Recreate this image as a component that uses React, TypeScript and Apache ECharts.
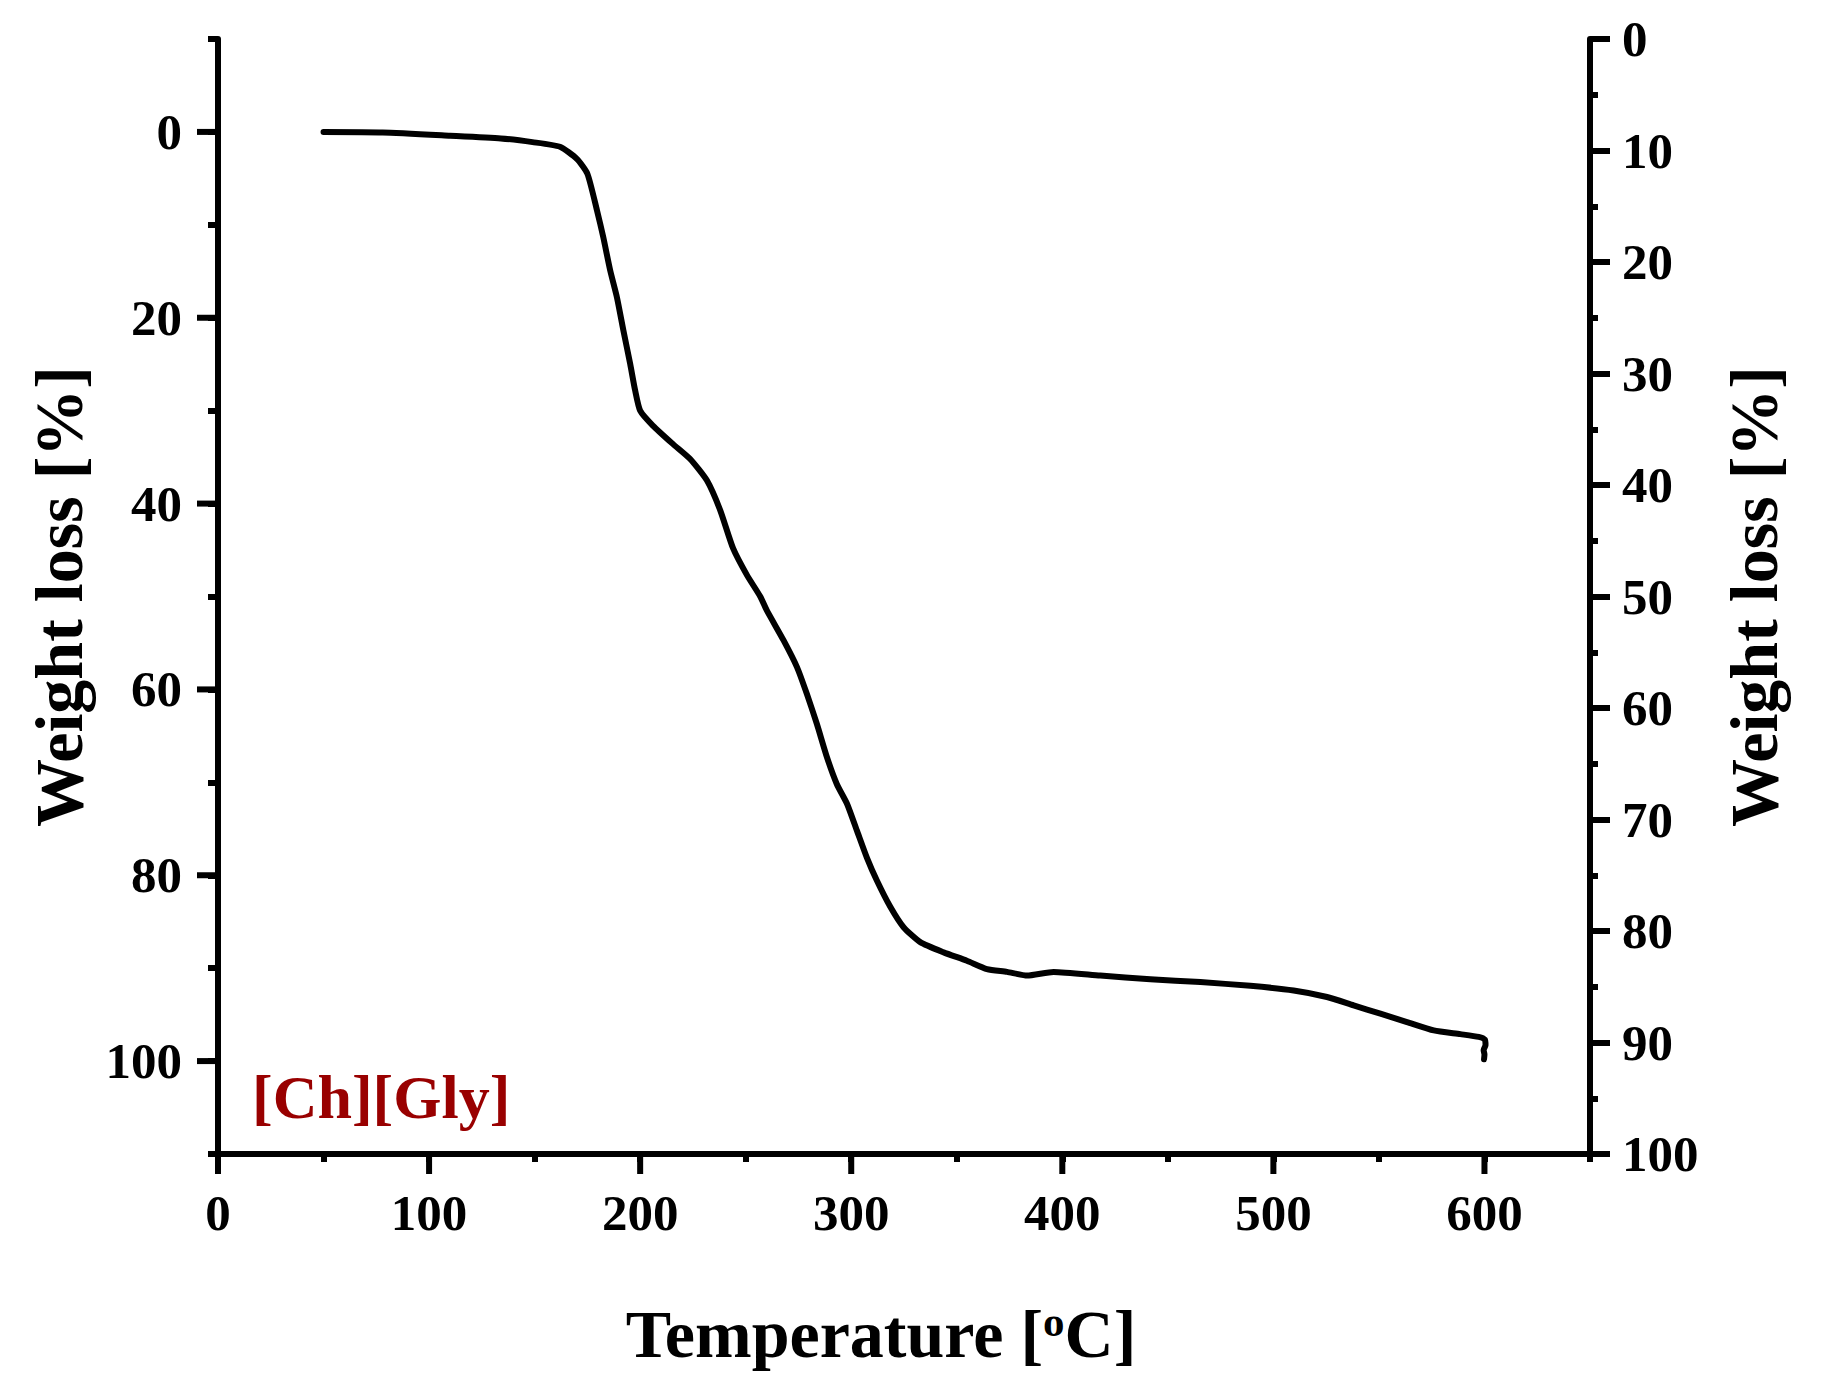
import React, { useEffect, useRef } from 'react';
import * as echarts from 'echarts';

// TGA curve of [Ch][Gly]
const temperature = [
    50, 78, 110, 134, 149, 162, 170, 175, 179.5, 182.5, 185.8, 189, 192, 195.3, 197.6, 200,
    206, 215.6, 223.7, 231.6, 237.9, 244, 250.6, 256.9, 260, 267.9, 274.3, 279, 283.7, 288.5,
    293.2, 298, 302.7, 307.4, 312.2, 318.5, 324.8, 332.7, 343.8, 354.8, 364.3, 373.8, 383.3,
    395.9, 418, 441.7, 465.4, 489.1, 509.6, 525.4, 538, 550.7, 563.3, 576, 588.6, 597.3,
    600.2, 600.5, 599.6, 600, 599.8,
];
const weightLoss = [
    0, 0.05, 0.4, 0.7, 1.1, 1.6, 2.9, 4.5, 8.4, 11.3, 14.9, 17.8, 21.3, 25, 27.8, 30,
    31.6, 33.6, 35.2, 37.5, 40.7, 44.8, 47.7, 50, 51.5, 54.7, 57.6, 60.5, 63.7, 67.3,
    70.2, 72.3, 75.2, 78.1, 80.6, 83.4, 85.6, 87.2, 88.3, 89.2, 90.1, 90.4, 90.8,
    90.4, 90.8, 91.2, 91.5, 91.9, 92.4, 93.1, 94, 94.9, 95.8, 96.7, 97.1, 97.4,
    97.7, 98.3, 98.8, 99.3, 99.8,
];
const xTicks = [0, 100, 200, 300, 400, 500, 600];
const leftTicks = [0, 20, 40, 60, 80, 100];
const sampleName = '[Ch][Gly]';

const FONT = 'Liberation Serif';

export default function App() {
    const chartRef = useRef<HTMLDivElement | null>(null);

    useEffect(() => {
        document.body.style.margin = '0';
        if (!chartRef.current) return;
        const chart = echarts.init(chartRef.current, undefined, { renderer: 'svg' });

        const tickLabel = {
            color: '#000',
            fontFamily: FONT,
            fontWeight: 'bold' as const,
            fontSize: 51,
        };
        const axisLine = { show: true, onZero: false, lineStyle: { color: '#000', width: 6 } };
        const noLine = { show: false, onZero: false };
        const tick = (len: number) => ({
            show: true,
            inside: false,
            length: len,
            lineStyle: { color: '#000', width: 6 },
        });
        const titleStyle = {
            color: '#000',
            fontFamily: FONT,
            fontWeight: 'bold' as const,
            fontSize: 68,
        };
        const tickOnly = (extra: object) => ({
            type: 'value',
            axisLine: noLine,
            axisLabel: { show: false },
            splitLine: { show: false },
            ...extra,
        });

        // long ticks drawn through the axes' own scales
        const longTicks = (values: number[], side: 'left' | 'bottom', len: number) => ({
            type: 'custom',
            xAxisIndex: 0,
            yAxisIndex: 0,
            clip: false,
            silent: true,
            z: 5,
            data: values.map((v) => (side === 'left' ? [0, v] : [v, 110])),
            renderItem: (_params: any, api: any) => {
                const x = api.value(0);
                const y = api.value(1);
                const p = api.coord([x, y]);
                const left = side === 'left';
                const px = left ? api.coord([0, y])[0] : p[0];
                const py = left ? p[1] : api.coord([x, 110])[1];
                return {
                    type: 'line',
                    shape: left
                        ? { x1: px - len, y1: py, x2: px, y2: py }
                        : { x1: px, y1: py, x2: px, y2: py + len },
                    style: { stroke: '#000', lineWidth: 6 },
                };
            },
        });

        const option = {
            animation: false,
            backgroundColor: '#fff',
            grid: { left: 218, right: 240, top: 39, bottom: 243 },
            xAxis: [
                {
                    type: 'value',
                    position: 'bottom',
                    min: 0,
                    max: 650,
                    interval: 50,
                    axisLine,
                    axisTick: tick(8),
                    axisLabel: {
                        ...tickLabel,
                        margin: 33,
                        formatter: (v: number) => (v <= 600 && v % 100 === 0 ? String(v) : ''),
                    },
                    splitLine: { show: false },
                    name: 'Temperature [{sup|o}C]',
                    nameLocation: 'middle',
                    nameGap: 146,
                    nameTextStyle: {
                        ...titleStyle,
                        padding: [0, 46, 0, 0],
                        rich: {
                            sup: {
                                ...titleStyle,
                                fontSize: 43,
                                verticalAlign: 'top',
                                lineHeight: 43,
                            },
                        },
                    },
                },
            ],
            yAxis: [
                {
                    type: 'value',
                    position: 'left',
                    inverse: true,
                    min: -10,
                    max: 110,
                    interval: 10,
                    axisLine,
                    axisTick: tick(10),
                    axisLabel: {
                        ...tickLabel,
                        margin: 36,
                        formatter: (v: number) => (v >= 0 && v <= 100 && v % 20 === 0 ? String(v) : ''),
                    },
                    splitLine: { show: false },
                    name: 'Weight loss [%]',
                    nameLocation: 'middle',
                    nameGap: 125,
                    nameTextStyle: titleStyle,
                },
                {
                    type: 'value',
                    position: 'right',
                    inverse: true,
                    min: 0,
                    max: 100,
                    interval: 10,
                    axisLine,
                    axisTick: tick(20),
                    axisLabel: { ...tickLabel, margin: 32 },
                    splitLine: { show: false },
                    name: 'Weight loss [%]',
                    nameLocation: 'middle',
                    nameGap: 130,
                    nameRotate: 90,
                    nameTextStyle: titleStyle,
                },
                // right short ticks every 5
                tickOnly({ position: 'right', inverse: true, min: 0, max: 100, interval: 5, axisTick: tick(8) }),
            ],
            graphic: [
                {
                    type: 'text',
                    left: 252,
                    top: 1066,
                    style: {
                        text: sampleName,
                        fill: '#990000',
                        font: `bold 62px "${FONT}"`,
                    },
                },
            ],
            series: [
                {
                    type: 'line',
                    xAxisIndex: 0,
                    yAxisIndex: 0,
                    data: temperature.map((t, i) => [t, weightLoss[i]]),
                    showSymbol: false,
                    smooth: 0.2,
                    lineStyle: { color: '#000', width: 6, cap: 'round', join: 'round' },
                },
                longTicks(leftTicks, 'left', 21),
                longTicks(xTicks, 'bottom', 20),
            ],
        };

        chart.setOption(option);

        return () => {
            chart.dispose();
        };
    }, []);

    return <div ref={chartRef} style={{ width: '1830px', height: '1397px' }} />;
}
